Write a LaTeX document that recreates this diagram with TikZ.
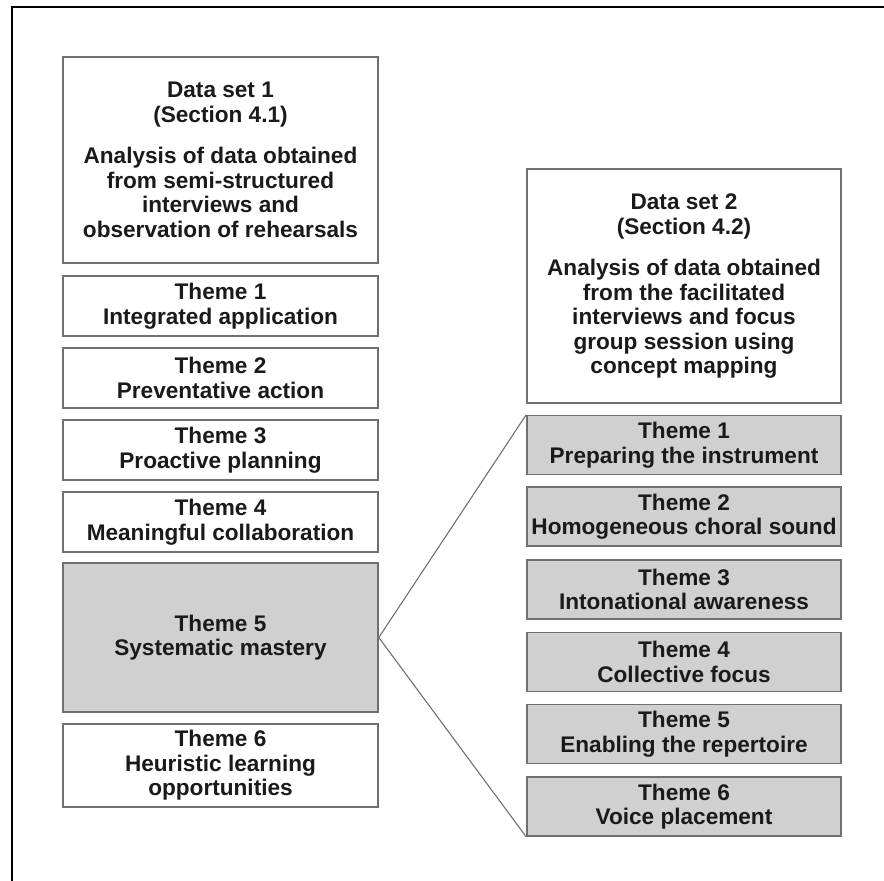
\documentclass[tikz,border=0pt]{standalone}
\usepackage{fontspec}
\setmainfont{Liberation Sans}
\begin{document}
\begin{tikzpicture}[x=1pt,y=-1pt,
  box/.style={draw=boxline, line width=1.6pt, fill=white, inner sep=0pt,
    align=center, text=ink, font=\bfseries\fontsize{22.6}{24.5}\selectfont},
  leftbox/.style={box, minimum width=315pt},
  rightbox/.style={box, minimum width=314pt},
  shaded/.style={fill=shade},
  link/.style={draw=boxline, line width=1.1pt}]
\definecolor{boxline}{HTML}{707070}
\definecolor{shade}{HTML}{D0D0D0}
\definecolor{ink}{HTML}{1A1A1A}
\useasboundingbox (0,0) rectangle (884,881);
% outer frame (open to the right and bottom)
\coordinate (fbl) at (12,881);
\coordinate (ftl) at (12,7);
\coordinate (ftr) at (884,7);
\draw[line width=2.6pt, black] (fbl) -- (ftl) -- (ftr);

% left column
\node[leftbox, minimum height=206pt] (ds1) at (220.5,160)
  {Data set 1\\(Section 4.1)\\[17pt]Analysis of data obtained\\from semi-structured\\interviews and\\observation of rehearsals};
\node[leftbox, minimum height=60pt] (l1) at (220.5,306) {Theme 1\\Integrated application};
\node[leftbox, minimum height=60pt] (l2) at (220.5,378) {Theme 2\\Preventative action};
\node[leftbox, minimum height=60pt] (l3) at (220.5,450) {Theme 3\\Proactive planning};
\node[leftbox, minimum height=60pt] (l4) at (220.5,522) {Theme 4\\Meaningful collaboration};
\node[leftbox, shaded, minimum height=149pt] (l5) at (220.5,637.5) {Theme 5\\Systematic mastery};
\node[leftbox, minimum height=83pt] (l6) at (220.5,765.5) {Theme 6\\Heuristic learning\\opportunities};

% right column
\node[rightbox, minimum height=234pt] (ds2) at (684,286)
  {Data set 2\\(Section 4.2)\\[17pt]Analysis of data obtained\\from the facilitated\\interviews and focus\\group session using\\concept mapping};
\node[rightbox, shaded, minimum height=59pt] (r1) at (684,445) {Theme 1\\Preparing the instrument};
\node[rightbox, shaded, minimum height=59pt] (r2) at (684,516.5) {Theme 2\\Homogeneous choral sound};
\node[rightbox, shaded, minimum height=59pt] (r3) at (684,589.5) {Theme 3\\Intonational awareness};
\node[rightbox, shaded, minimum height=59pt] (r4) at (684,662) {Theme 4\\Collective focus};
\node[rightbox, shaded, minimum height=59pt] (r5) at (684,734) {Theme 5\\Enabling the repertoire};
\node[rightbox, shaded, minimum height=59pt] (r6) at (684,806.5) {Theme 6\\Voice placement};

% expansion of theme 5 into data set 2 themes
\draw[link] (r1.north west) -- (l5.east) -- (r6.south west);
\end{tikzpicture}
\end{document}
